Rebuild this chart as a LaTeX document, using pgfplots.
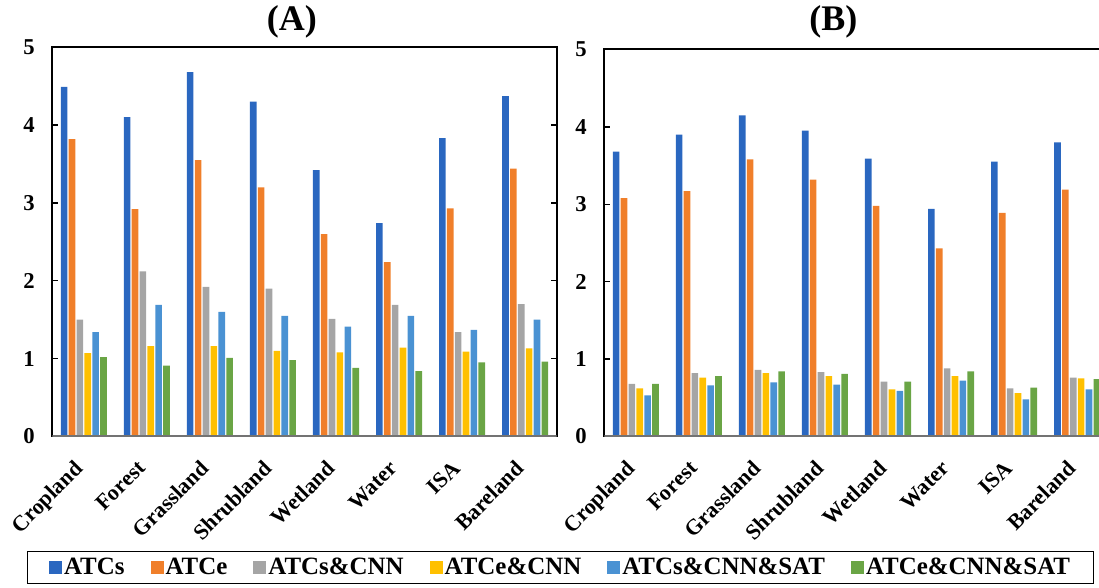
\documentclass[border=0pt]{standalone}
\usepackage{pgfplots}
\pgfplotsset{compat=1.18}
\usepackage{pgfplotstable}
\usepackage{fontspec}
\setmainfont{Liberation Serif}

\definecolor{cA}{HTML}{2A67C0}
\definecolor{cB}{HTML}{F07F2A}
\definecolor{cC}{HTML}{A5A5A5}
\definecolor{cD}{HTML}{FFC000}
\definecolor{cE}{HTML}{4A92D3}
\definecolor{cF}{HTML}{6AA545}

\pgfplotstableread{
x s e sc ec ss es
0 4.49 3.82 1.50 1.07 1.34 1.02
1 4.10 2.92 2.12 1.16 1.69 0.91
2 4.68 3.55 1.92 1.16 1.60 1.01
3 4.30 3.20 1.90 1.10 1.55 0.98
4 3.42 2.60 1.51 1.08 1.41 0.88
5 2.74 2.24 1.69 1.14 1.55 0.84
6 3.83 2.93 1.34 1.09 1.37 0.95
7 4.37 3.44 1.70 1.13 1.50 0.96
}\dataA

\pgfplotstableread{
x s e sc ec ss es
0 3.68 3.08 0.68 0.62 0.53 0.68
1 3.90 3.17 0.82 0.76 0.66 0.78
2 4.15 3.58 0.86 0.82 0.70 0.84
3 3.95 3.32 0.83 0.78 0.67 0.81
4 3.59 2.98 0.71 0.61 0.59 0.71
5 2.94 2.43 0.88 0.78 0.72 0.84
6 3.55 2.89 0.62 0.56 0.48 0.63
7 3.80 3.19 0.76 0.75 0.61 0.74
}\dataB

\pgfplotsset{
  sqleg/.style={legend image code/.code={\fill[##1,draw=none] (0pt,-4.9pt) rectangle (9.75pt,4.9pt);}},
  panel/.style={
    ybar, scale only axis, width=378.3pt, anchor=south west,
    xmin=-0.5, xmax=7.5, ymin=0, ymax=5,
    xtick={0,...,7},
    xticklabels={Cropland,Forest,Grassland,Shrubland,Wetland,Water,ISA,Bareland},
    ytick={0,...,5},
    x tick style={draw=none},
    y tick style={black, line width=1pt},
    major tick length=4pt, tick align=inside,
    axis line style={black, line width=1.5pt},
    yticklabel style={font=\bfseries\fontsize{17}{19}\selectfont, anchor=east, inner sep=0pt, xshift=-13pt},
    /pgf/number format/assume math mode=true,
    xticklabel style={font=\bfseries\fontsize{16.5}{18}\selectfont, inner sep=0pt, xshift=-8pt, yshift=-17pt, rotate=45, anchor=north east},
    title style={font=\bfseries\fontsize{27}{29}\selectfont, anchor=center},
    bar width=0.105,
  },
}

\begin{document}
\begin{tikzpicture}
\useasboundingbox (0,0) rectangle (824.25pt,440.25pt);
\clip (0,0) rectangle (824.25pt,440.25pt);
\begin{axis}[panel, at={(39.2pt,112.9pt)}, height=292pt,
  title={(A)}, title style={at={(0.475,1)}, yshift=13pt},
  legend columns=6,
  legend cell align=left,
  legend style={at={(-0.0502,-0.294)}, anchor=north west, draw=black, line width=1.1pt,
    font=\bfseries\fontsize{18.7}{20}\selectfont,
    inner xsep=16pt, inner ysep=3pt,
    nodes={inner xsep=1.5pt},
    /tikz/every even column/.append style={column sep=18pt}},
]
\addplot[fill=cA, draw=none, bar shift=-0.3125, sqleg] table[x=x,y=s]{\dataA};
\addlegendentry{ATCs}
\addplot[fill=cB, draw=none, bar shift=-0.1875, sqleg] table[x=x,y=e]{\dataA};
\addlegendentry{ATCe}
\addplot[fill=cC, draw=none, bar shift=-0.0625, sqleg] table[x=x,y=sc]{\dataA};
\addlegendentry{ATCs\&CNN}
\addplot[fill=cD, draw=none, bar shift=0.0625, sqleg] table[x=x,y=ec]{\dataA};
\addlegendentry{ATCe\&CNN}
\addplot[fill=cE, draw=none, bar shift=0.1875, sqleg] table[x=x,y=ss]{\dataA};
\addlegendentry{ATCs\&CNN\&SAT}
\addplot[fill=cF, draw=none, bar shift=0.3125, sqleg] table[x=x,y=es]{\dataA};
\addlegendentry{ATCe\&CNN\&SAT}
\draw[gray!90!black, line width=1.5pt] (rel axis cs:0,0) -- (rel axis cs:1,0);
\end{axis}
\begin{axis}[panel, at={(453.2pt,112.9pt)}, height=290.25pt,
  title={(B)}, title style={at={(0.454,1)}, yshift=15pt},
]
\addplot[fill=cA, draw=none, bar shift=-0.3125] table[x=x,y=s]{\dataB};
\addplot[fill=cB, draw=none, bar shift=-0.1875] table[x=x,y=e]{\dataB};
\addplot[fill=cC, draw=none, bar shift=-0.0625] table[x=x,y=sc]{\dataB};
\addplot[fill=cD, draw=none, bar shift=0.0625] table[x=x,y=ec]{\dataB};
\addplot[fill=cE, draw=none, bar shift=0.1875] table[x=x,y=ss]{\dataB};
\addplot[fill=cF, draw=none, bar shift=0.3125] table[x=x,y=es]{\dataB};
\draw[gray!90!black, line width=1.5pt] (rel axis cs:0,0) -- (rel axis cs:1,0);
\end{axis}
\end{tikzpicture}
\end{document}
